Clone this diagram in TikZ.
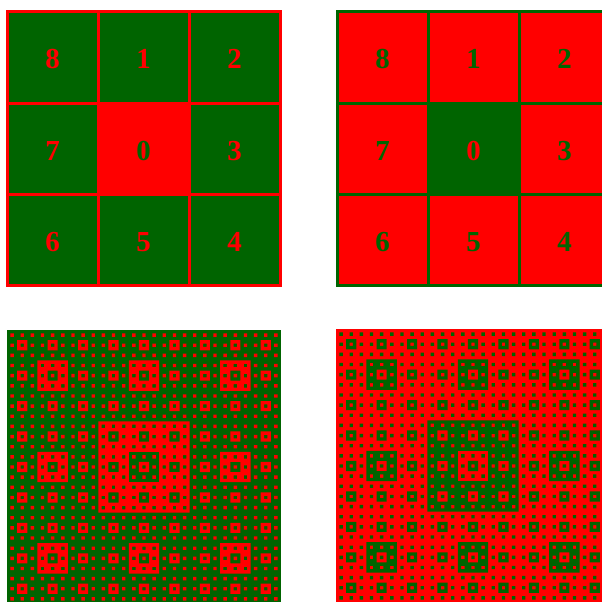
\documentclass[tikz,border=0pt]{standalone}
\usepackage{fontspec}
\setmainfont{Liberation Serif}
\usetikzlibrary{positioning}
\definecolor{cellgreen}{RGB}{0,100,0}
\definecolor{cellred}{RGB}{255,0,0}

\begin{document}
\begin{tikzpicture}[
    x=1pt, y=-1pt,
    cell/.style={draw=#1, line width=3pt, minimum size=91pt, inner sep=0pt, outer sep=0pt, text height=23pt, text depth=0pt, font=\bfseries\fontsize{29}{29}\selectfont},
    gfill/.style={fill=cellgreen, text=cellred},
    rfill/.style={fill=cellred, text=cellgreen}
]
\clip (0,0) rectangle (602,602);

% Grid 1: green cells, red lines
\node[cell=cellred, rfill] (a0) at (143.5,148.5) {0};
\foreach \d/\pos in {1/above, 2/above right, 3/right, 4/below right, 5/below, 6/below left, 7/left, 8/above left}
    \node[cell=cellred, gfill, \pos=0pt of a0] (a\d) {\d};

% Grid 2: red cells, green lines
\node[cell=cellgreen, gfill] (b0) at (473.5,148.5) {0};
\foreach \d/\pos in {1/above, 2/above right, 3/right, 4/below right, 5/below, 6/below left, 7/left, 8/above left}
    \node[cell=cellgreen, rfill, \pos=0pt of b0] (b\d) {\d};

% Carpets: every centre square flips the colour
\foreach \fx/\fy/\bg/\fg in {7/330/cellgreen/cellred, 336/329/cellred/cellgreen} {
    \fill[\bg] (\fx,\fy) rectangle ++(274,274);
    \fill[\fg, even odd rule]
        \foreach \k [evaluate=\k as \s using 274/3^\k, evaluate=\k as \n using int(3^(\k-1)-1)] in {1,...,4} {
            \foreach \i in {0,...,\n} {
                \foreach \j in {0,...,\n} {
                    (\fx+\i*3*\s+\s, \fy+\j*3*\s+\s) rectangle ++(\s,\s)
                }
            }
        };
}
\end{tikzpicture}
\end{document}
